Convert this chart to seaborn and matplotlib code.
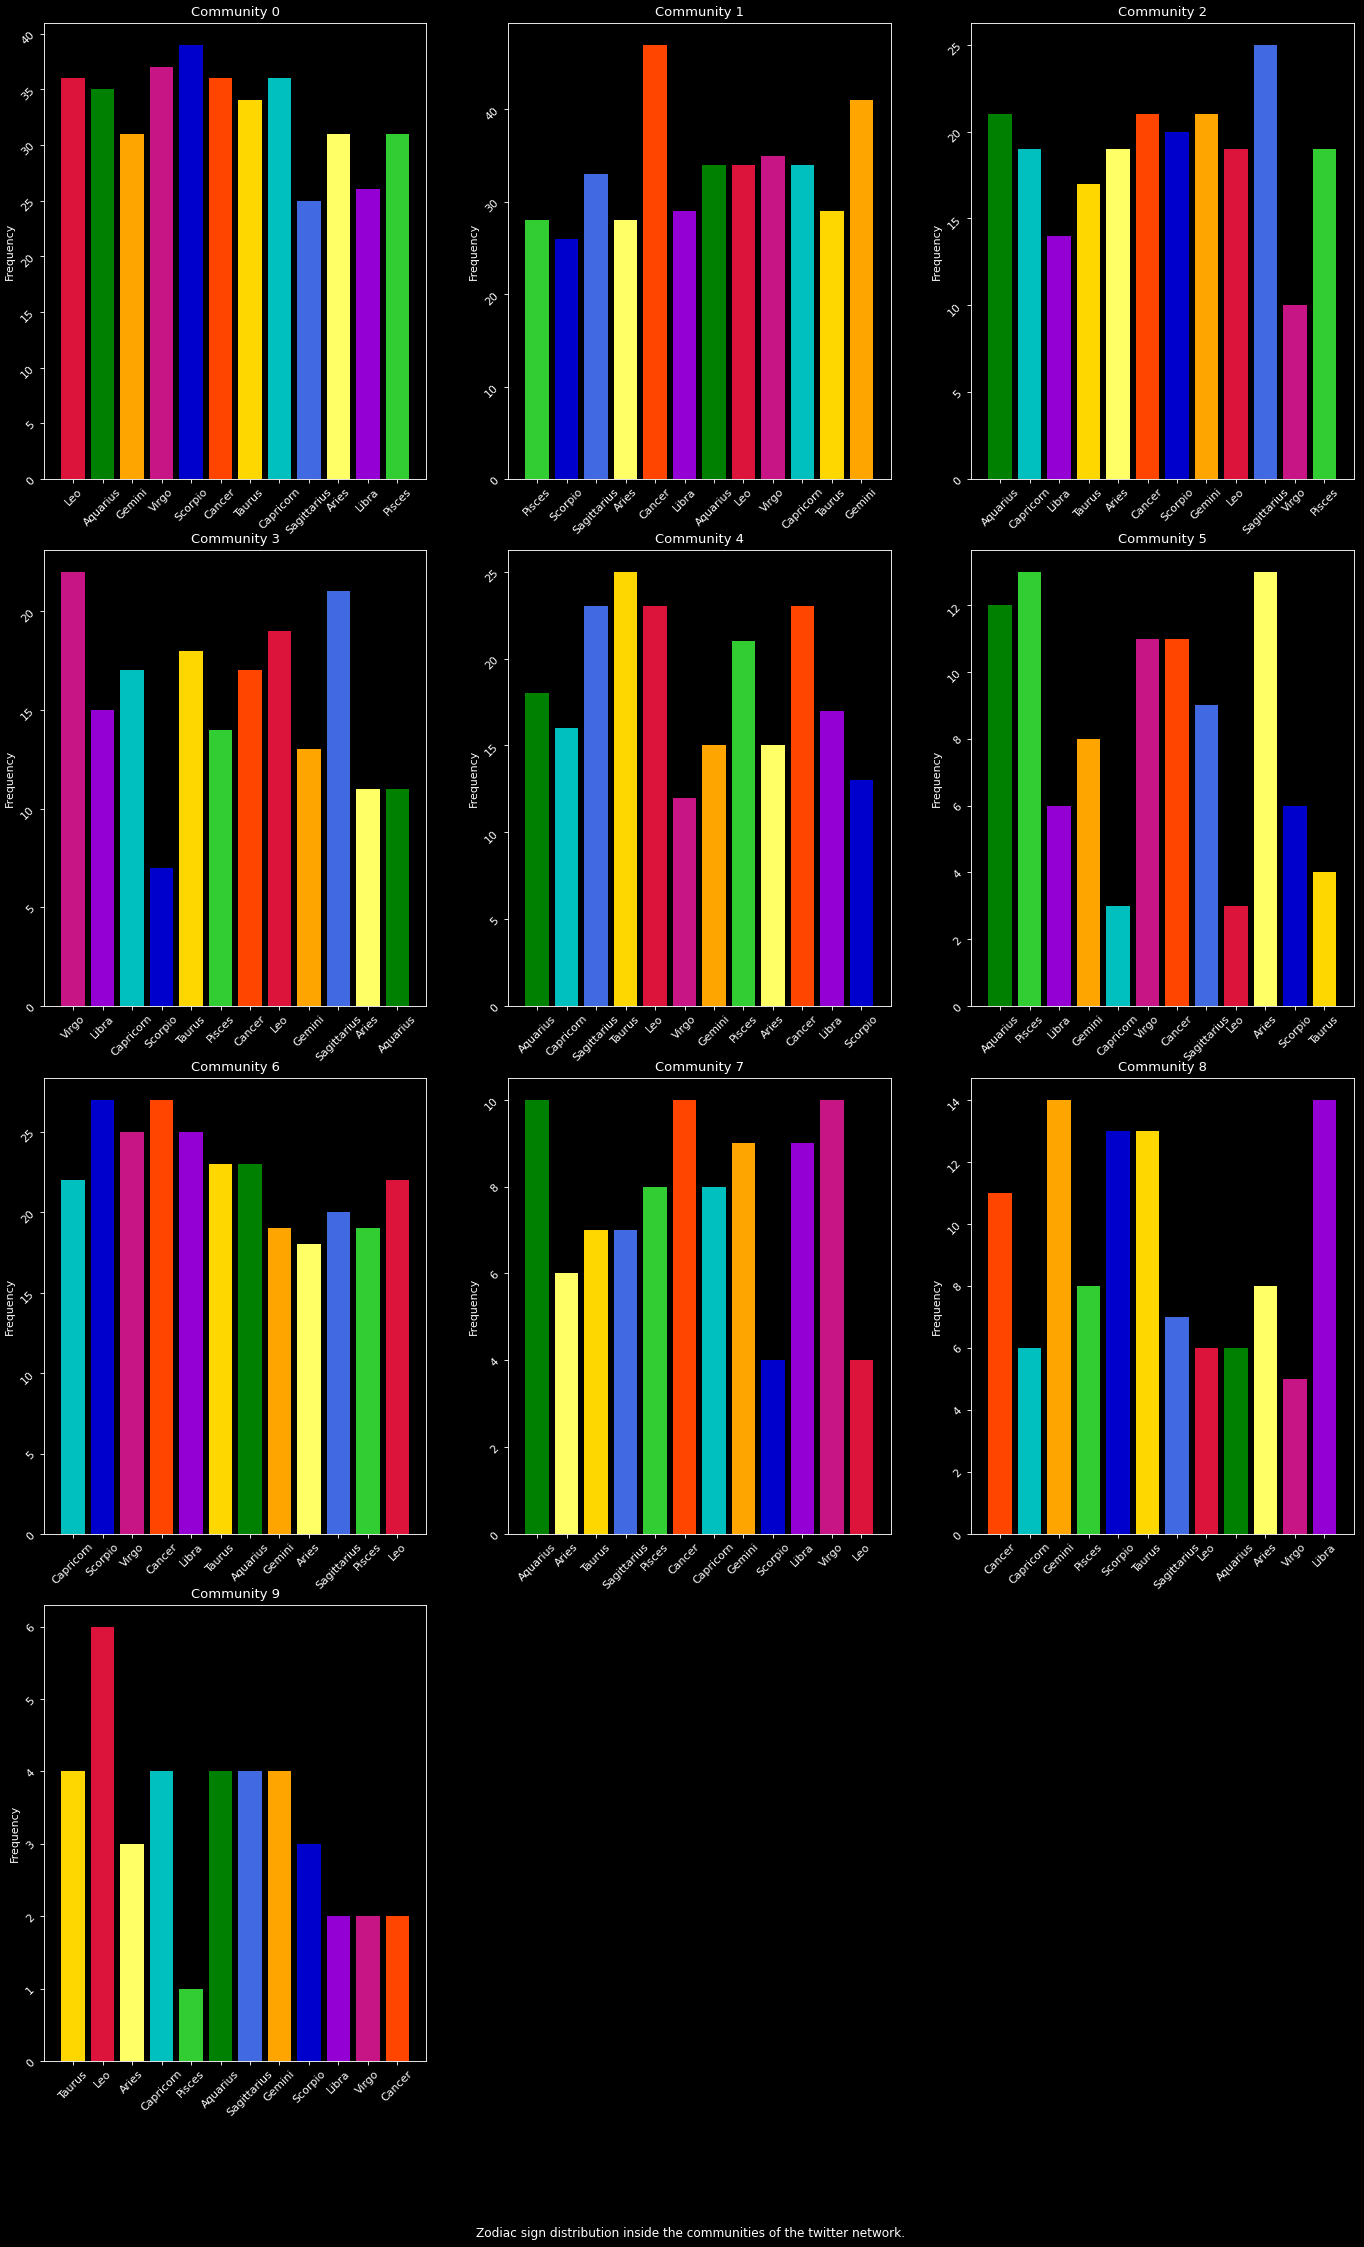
import matplotlib
matplotlib.use("Agg")
import matplotlib.pyplot as plt
import seaborn as sns
import pandas as pd

# ---- data ----
sign_colors = {
    "Leo": "#DC143C", "Aquarius": "#008000", "Gemini": "#FFA500",
    "Virgo": "#C71585", "Scorpio": "#0000CD", "Cancer": "#FF4500",
    "Taurus": "#FFD700", "Capricorn": "#00BFBF", "Sagittarius": "#4169E1",
    "Aries": "#FFFF66", "Libra": "#9400D3", "Pisces": "#32CD32",
}

c0_signs = ["Leo", "Aquarius", "Gemini", "Virgo", "Scorpio", "Cancer", "Taurus", "Capricorn", "Sagittarius", "Aries", "Libra", "Pisces"]
c0_counts = [36, 35, 31, 37, 39, 36, 34, 36, 25, 31, 26, 31]

c1_signs = ["Pisces", "Scorpio", "Sagittarius", "Aries", "Cancer", "Libra", "Aquarius", "Leo", "Virgo", "Capricorn", "Taurus", "Gemini"]
c1_counts = [28, 26, 33, 28, 47, 29, 34, 34, 35, 34, 29, 41]

c2_signs = ["Aquarius", "Capricorn", "Libra", "Taurus", "Aries", "Cancer", "Scorpio", "Gemini", "Leo", "Sagittarius", "Virgo", "Pisces"]
c2_counts = [21, 19, 14, 17, 19, 21, 20, 21, 19, 25, 10, 19]

c3_signs = ["Virgo", "Libra", "Capricorn", "Scorpio", "Taurus", "Pisces", "Cancer", "Leo", "Gemini", "Sagittarius", "Aries", "Aquarius"]
c3_counts = [22, 15, 17, 7, 18, 14, 17, 19, 13, 21, 11, 11]

c4_signs = ["Aquarius", "Capricorn", "Sagittarius", "Taurus", "Leo", "Virgo", "Gemini", "Pisces", "Aries", "Cancer", "Libra", "Scorpio"]
c4_counts = [18, 16, 23, 25, 23, 12, 15, 21, 15, 23, 17, 13]

c5_signs = ["Aquarius", "Pisces", "Libra", "Gemini", "Capricorn", "Virgo", "Cancer", "Sagittarius", "Leo", "Aries", "Scorpio", "Taurus"]
c5_counts = [12, 13, 6, 8, 3, 11, 11, 9, 3, 13, 6, 4]

c6_signs = ["Capricorn", "Scorpio", "Virgo", "Cancer", "Libra", "Taurus", "Aquarius", "Gemini", "Aries", "Sagittarius", "Pisces", "Leo"]
c6_counts = [22, 27, 25, 27, 25, 23, 23, 19, 18, 20, 19, 22]

c7_signs = ["Aquarius", "Aries", "Taurus", "Sagittarius", "Pisces", "Cancer", "Capricorn", "Gemini", "Scorpio", "Libra", "Virgo", "Leo"]
c7_counts = [10, 6, 7, 7, 8, 10, 8, 9, 4, 9, 10, 4]

c8_signs = ["Cancer", "Capricorn", "Gemini", "Pisces", "Scorpio", "Taurus", "Sagittarius", "Leo", "Aquarius", "Aries", "Virgo", "Libra"]
c8_counts = [11, 6, 14, 8, 13, 13, 7, 6, 6, 8, 5, 14]

c9_signs = ["Taurus", "Leo", "Aries", "Capricorn", "Pisces", "Aquarius", "Sagittarius", "Gemini", "Scorpio", "Libra", "Virgo", "Cancer"]
c9_counts = [4, 6, 3, 4, 1, 4, 4, 4, 3, 2, 2, 2]

communities = [
    (c0_signs, c0_counts), (c1_signs, c1_counts), (c2_signs, c2_counts),
    (c3_signs, c3_counts), (c4_signs, c4_counts), (c5_signs, c5_counts),
    (c6_signs, c6_counts), (c7_signs, c7_counts), (c8_signs, c8_counts),
    (c9_signs, c9_counts),
]
caption = "Zodiac sign distribution inside the communities of the twitter network."

# ---- figure ----
plt.style.use("dark_background")
plt.rcParams["font.family"] = ["DejaVu Sans"]

W, H = 1364, 2247
DPI = 79
fig = plt.figure(figsize=(W / DPI, H / DPI), dpi=DPI)

col_left_px = [44, 508, 971]
row_top_px = [23, 550, 1078, 1605]
ax_w_px, ax_h_px = 382.5, 456

for i, (signs, counts) in enumerate(communities):
    r, c = divmod(i, 3)
    left = col_left_px[c] / W
    bottom = (H - row_top_px[r] - ax_h_px) / H
    ax = fig.add_axes([left, bottom, ax_w_px / W, ax_h_px / H])
    df = pd.DataFrame({"sign": signs, "count": counts})
    sns.barplot(data=df, x="sign", y="count", hue="sign", order=signs,
                hue_order=signs, palette=sign_colors, saturation=1,
                width=0.8, legend=False, ax=ax, errorbar=None)
    n = len(signs)
    ax.set_xlim(-0.4 - 0.05 * (n - 0.2), n - 0.6 + 0.05 * (n - 0.2))
    ax.set_ylim(0, max(counts) * 1.05)
    ax.set_title(f"Community {i}", fontsize=12)
    ax.set_xlabel("")
    ax.set_ylabel("Frequency", fontsize=10)
    ax.tick_params(axis="x", labelrotation=45, labelsize=10)
    ax.tick_params(axis="y", labelrotation=45, labelsize=10)
    for s in ax.spines.values():
        s.set_color("white")
    ax.grid(False)

fig.text(0.506, (H - 2233) / H, caption, ha="center", va="center", fontsize=11)

fig.savefig("out.png", dpi=DPI, facecolor="black")
